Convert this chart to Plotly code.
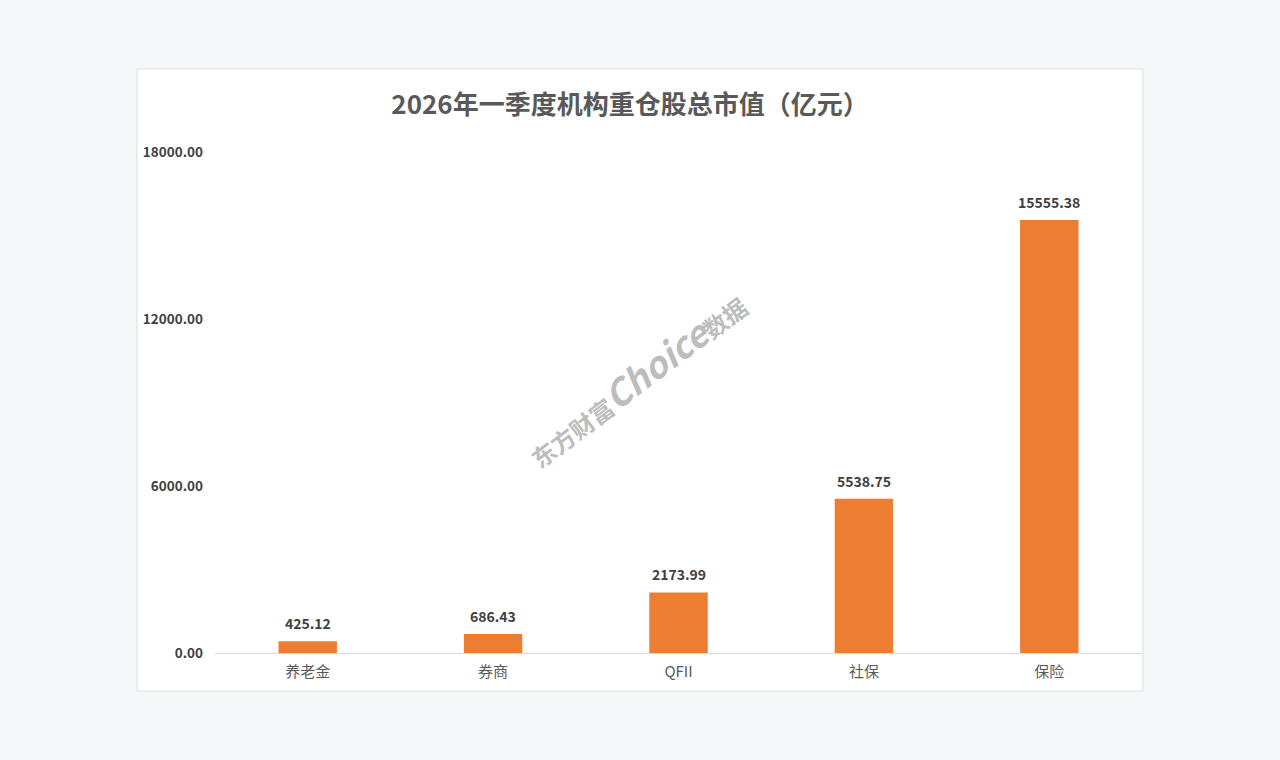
import plotly.graph_objects as go

categories = ["养老金", "券商", "QFII", "社保", "保险"]
values = [425.12, 686.43, 2173.99, 5538.75, 15555.38]
y_ticks = [0, 6000, 12000, 18000]

FONT = "Noto Sans CJK SC"
W, H = 1280, 760
L, R, T, B = 215, 138, 152, 107
pw, ph = W - L - R, H - T - B

def px_x(x):
    return (x - L) / pw

def px_y(y):
    return (H - B - y) / ph

fig = go.Figure()
fig.add_trace(go.Bar(
    x=categories, y=values,
    marker=dict(color="#ED7D31", line=dict(width=0)),
    width=0.315,
    hoverinfo="x+y",
))

label_annotations = [
    dict(x=c, y=v, xref="x", yref="y", text=f"{v:.2f}", showarrow=False,
         yanchor="bottom", yshift=6,
         font=dict(family=FONT, size=14, color="#404040", weight="bold"))
    for c, v in zip(categories, values)
]

fig.update_layout(
    width=W, height=H,
    margin=dict(l=L, r=R, t=T, b=B),
    paper_bgcolor="#F5F6F8",
    plot_bgcolor="#FFFFFF",
    showlegend=False,
    title=dict(
        text="<b>2026年一季度机构重仓股总市值（亿元）</b>",
        x=630 / W, xref="container", xanchor="center",
        y=1 - 105 / H, yref="container", yanchor="middle",
        font=dict(family=FONT, size=26, color="#595959"),
    ),
    xaxis=dict(
        showline=True, linecolor="#D9D9D9", linewidth=1,
        ticks="", showgrid=False,
        tickfont=dict(family=FONT, size=15, color="#595959"),
        ticklabelstandoff=5,
    ),
    yaxis=dict(
        range=[0, 18000], tickvals=y_ticks, tickformat=".2f",
        showgrid=False, zeroline=False, showline=False, ticks="",
        tickfont=dict(family=FONT, size=13.5, color="#404040", weight="bold"),
        ticklabelstandoff=11,
    ),
    shapes=[dict(
        type="rect", xref="paper", yref="paper", layer="below",
        x0=px_x(137), x1=px_x(1143), y0=px_y(691), y1=px_y(69),
        fillcolor="#FFFFFF", line=dict(color="#DCDEE2", width=1),
    )],
    annotations=label_annotations + [dict(
        xref="paper", yref="paper",
        x=px_x(635), y=px_y(378),
        text="东方财富<b><i><span style='font-size:36px'>Choice</span></i></b>数据",
        textangle=-37, showarrow=False,
        font=dict(family=FONT, size=24, color="rgba(150,150,150,0.65)", weight="bold"),
    )],
)

fig.write_html(
    "out.html",
    config={"displayModeBar": False},
    post_script="document.body.style.margin='0';document.body.style.background='#F5F6F8';",
)
